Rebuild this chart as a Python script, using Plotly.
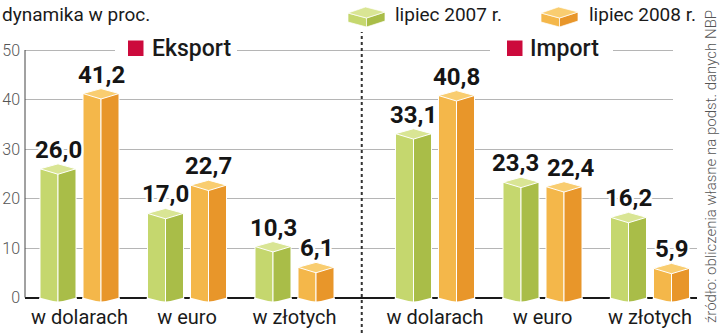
import plotly.graph_objects as go

# ---------------- data ----------------
categories = ["w dolarach", "w euro", "w złotych"]
panels = ["Eksport", "Import"]
series_names = ["lipiec 2007 r.", "lipiec 2008 r."]
eksport_2007 = [26.0, 17.0, 10.3]
eksport_2008 = [41.2, 22.7, 6.1]
import_2007 = [33.1, 23.3, 16.2]
import_2008 = [40.8, 22.4, 5.9]
y_ticks = [0, 10, 20, 30, 40, 50]
y_title = "dynamika w proc."
source = "źródło: obliczenia własne na podst. danych NBP"

# ---------------- layout constants ----------------
W, H = 720, 333
ML, MR, MT, MB = 25, 23, 40, 30
PW, PH = W - ML - MR, H - MT - MB
PXPU = 4.95                      # pixels per unit
YMIN = -(H - MB - 297.5) / PXPU
YMAX = YMIN + PH / PXPU

STEP, START, PANEL_GAP = 107.5, 54.5, 33
OFF, HW = 21.5, 18               # bar centre offset, half bar width
DF, DB, DBOT = 1.1, 1.0, 0.9     # cap front/back depth, bottom V depth
COLLIDE = 3.0                    # values closer than this get labels pushed apart
PUSH = 6                         # px

COLORS = [
    dict(left="#c5d76e", right="#a9bd48", top="#d9e594"),   # 2007 green
    dict(left="#f4b74a", right="#e8962a", top="#f9cd70"),   # 2008 orange
]
RED = "#cc0a3c"


def px_x(px):
    return (px - ML) / PW


def px_y(py):
    return (H - MB - py) / PH


centers = [START + p * (3 * STEP + PANEL_GAP) + i * STEP
           for p in range(len(panels)) for i in range(len(categories))]
series = [eksport_2007 + import_2007, eksport_2008 + import_2008]

fig = go.Figure()
annotations = []
shapes = []

halo = ", ".join(f"{a}px {b}px 0 #fff" for a, b in
                 [(2, 0), (-2, 0), (0, 2), (0, -2), (2, 2), (-2, -2), (2, -2), (-2, 2)])

for k, vals in enumerate(series):
    sign = -1 if k == 0 else 1
    xs = [c + sign * OFF for c in centers]
    col = COLORS[k]
    heights = [v + DBOT for v in vals]
    # left (lit) face and right (shaded) face
    fig.add_trace(go.Bar(x=xs, y=heights, base=-DBOT, width=HW, offset=-HW,
                         marker=dict(color=col["left"], line=dict(color="white", width=1)),
                         hoverinfo="skip", showlegend=False))
    fig.add_trace(go.Bar(x=xs, y=heights, base=-DBOT, width=HW, offset=0,
                         marker=dict(color=col["right"], line=dict(color="white", width=1)),
                         hoverinfo="skip", showlegend=False))
    # white masks shaping the bottom into a V
    mx, my = [], []
    for x in xs:
        mx += [x - HW - 0.8, x, x - HW - 0.8, None, x + HW + 0.8, x, x + HW + 0.8, None]
        my += [0, -DBOT - 0.05, -DBOT - 0.05, None, 0, -DBOT - 0.05, -DBOT - 0.05, None]
    fig.add_trace(go.Scatter(x=mx, y=my, mode="lines", fill="toself", fillcolor="white",
                             line=dict(width=0, color="white"), hoverinfo="skip",
                             showlegend=False))
    # top caps
    cx, cy = [], []
    for x, v in zip(xs, vals):
        cx += [x - HW, x, x + HW, x, x - HW, None]
        cy += [v, v - DF, v, v + DB, v, None]
    fig.add_trace(go.Scatter(x=cx, y=cy, mode="lines", fill="toself", fillcolor=col["top"],
                             line=dict(width=1, color="white"), hoverinfo="skip",
                             showlegend=False))
    # value labels
    other = series[1 - k]
    for x, v, o in zip(xs, vals, other):
        shift = sign * PUSH if abs(v - o) < COLLIDE else 0
        annotations.append(dict(
            x=x, y=v, xref="x", yref="y", text=f"{v:.1f}".replace(".", ","),
            showarrow=False, xanchor="center", yanchor="bottom", yshift=3, xshift=shift,
            font=dict(family="Roboto", size=24, weight="bold", color="#151515", shadow=halo)))

# panel headers: white gap in the top gridline, red square, title
header_geom = [(115, 237, 128, 150), (490, 613, 507, 528)]
for name, (g0, g1, sq, tx) in zip(panels, header_geom):
    shapes.append(dict(type="rect", xref="paper", yref="paper", layer="above",
                       x0=px_x(g0), x1=px_x(g1), y0=px_y(53), y1=px_y(47),
                       fillcolor="white", line=dict(width=0)))
    shapes.append(dict(type="rect", xref="paper", yref="paper", layer="above",
                       x0=px_x(sq), x1=px_x(sq + 15.5), y0=px_y(56), y1=px_y(40.5),
                       fillcolor=RED, line=dict(width=0)))
    annotations.append(dict(x=px_x(tx), y=px_y(48.5), xref="paper", yref="paper",
                            text=name, showarrow=False, xanchor="left", yanchor="middle",
                            font=dict(family="Roboto", size=23, weight=500, color="#1a1a1a")))

# right edge of upper gridlines stops short of the source text
shapes.append(dict(type="rect", xref="paper", yref="paper", layer="above",
                   x0=px_x(673), x1=px_x(698), y0=px_y(235), y1=px_y(40),
                   fillcolor="white", line=dict(width=0)))

# y axis line (0..50)
shapes.append(dict(type="line", xref="paper", yref="y", x0=0, x1=0, y0=0, y1=50,
                   line=dict(color="#444", width=1), layer="above"))

# dotted separator between panels
sep_x = (centers[2] + centers[3]) / 2 - 3
shapes.append(dict(type="line", xref="x", yref="paper", x0=sep_x, x1=sep_x,
                   y0=px_y(333), y1=px_y(32),
                   line=dict(color="#333", width=2, dash="dot"), layer="above"))

# legend cube icons + texts
legend_geom = [(348, 393), (541, 587)]
for k, (ix, tx) in enumerate(legend_geom):
    col = COLORS[k]
    w = 37
    m = ix + w / 2
    pts_top = [(ix, 13), (m - 1, 7), (ix + w, 12), (m, 18)]
    pts_left = [(ix, 13), (m, 18), (m, 27), (ix, 22)]
    pts_right = [(m, 18), (ix + w, 12), (ix + w, 21), (m, 27)]
    for pts, c in [(pts_left, col["left"]), (pts_right, col["right"]), (pts_top, col["top"])]:
        path = "M " + " L ".join(f"{px_x(a):.5f},{px_y(b):.5f}" for a, b in pts) + " Z"
        shapes.append(dict(type="path", xref="paper", yref="paper", path=path,
                           fillcolor=c, line=dict(color="white", width=0.7), layer="above"))
    annotations.append(dict(x=px_x(tx), y=px_y(15), xref="paper", yref="paper",
                            text=series_names[k], showarrow=False, xanchor="left",
                            yanchor="middle",
                            font=dict(family="Roboto", size=19, color="#1a1a1a")))

# y unit title
annotations.append(dict(x=px_x(0), y=px_y(14), xref="paper", yref="paper", text=y_title,
                        showarrow=False, xanchor="left", yanchor="middle",
                        font=dict(family="Roboto", size=19, color="#1a1a1a")))

# source, rotated
annotations.append(dict(x=px_x(711), y=px_y(167), xref="paper", yref="paper", text=source,
                        showarrow=False, textangle=-90, xanchor="center", yanchor="middle",
                        font=dict(family="Roboto", size=15, weight=300, color="#555")))

fig.update_layout(
    width=W, height=H, autosize=False,
    margin=dict(l=ML, r=MR, t=MT, b=MB, pad=0),
    paper_bgcolor="white", plot_bgcolor="white",
    barmode="overlay", showlegend=False,
    font=dict(family="Roboto"),
    xaxis=dict(range=[0, PW], tickvals=centers, ticktext=categories * len(panels),
               showgrid=False, zeroline=False, showline=False, ticks="",
               tickfont=dict(family="Roboto", size=20, color="#1a1a1a"),
               automargin=False, fixedrange=True),
    yaxis=dict(range=[YMIN, YMAX], tickvals=y_ticks, ticktext=[str(t) for t in y_ticks],
               showgrid=True, gridcolor="#b5b5b5", gridwidth=1,
               zeroline=True, zerolinecolor="#1a1a1a", zerolinewidth=2,
               showline=False, ticks="", ticklabelstandoff=4,
               tickfont=dict(family="Roboto", size=16, weight=300, color="#555"),
               automargin=False, fixedrange=True),
    annotations=annotations, shapes=shapes,
)

fig.write_html("out.html", config=dict(displayModeBar=False))
